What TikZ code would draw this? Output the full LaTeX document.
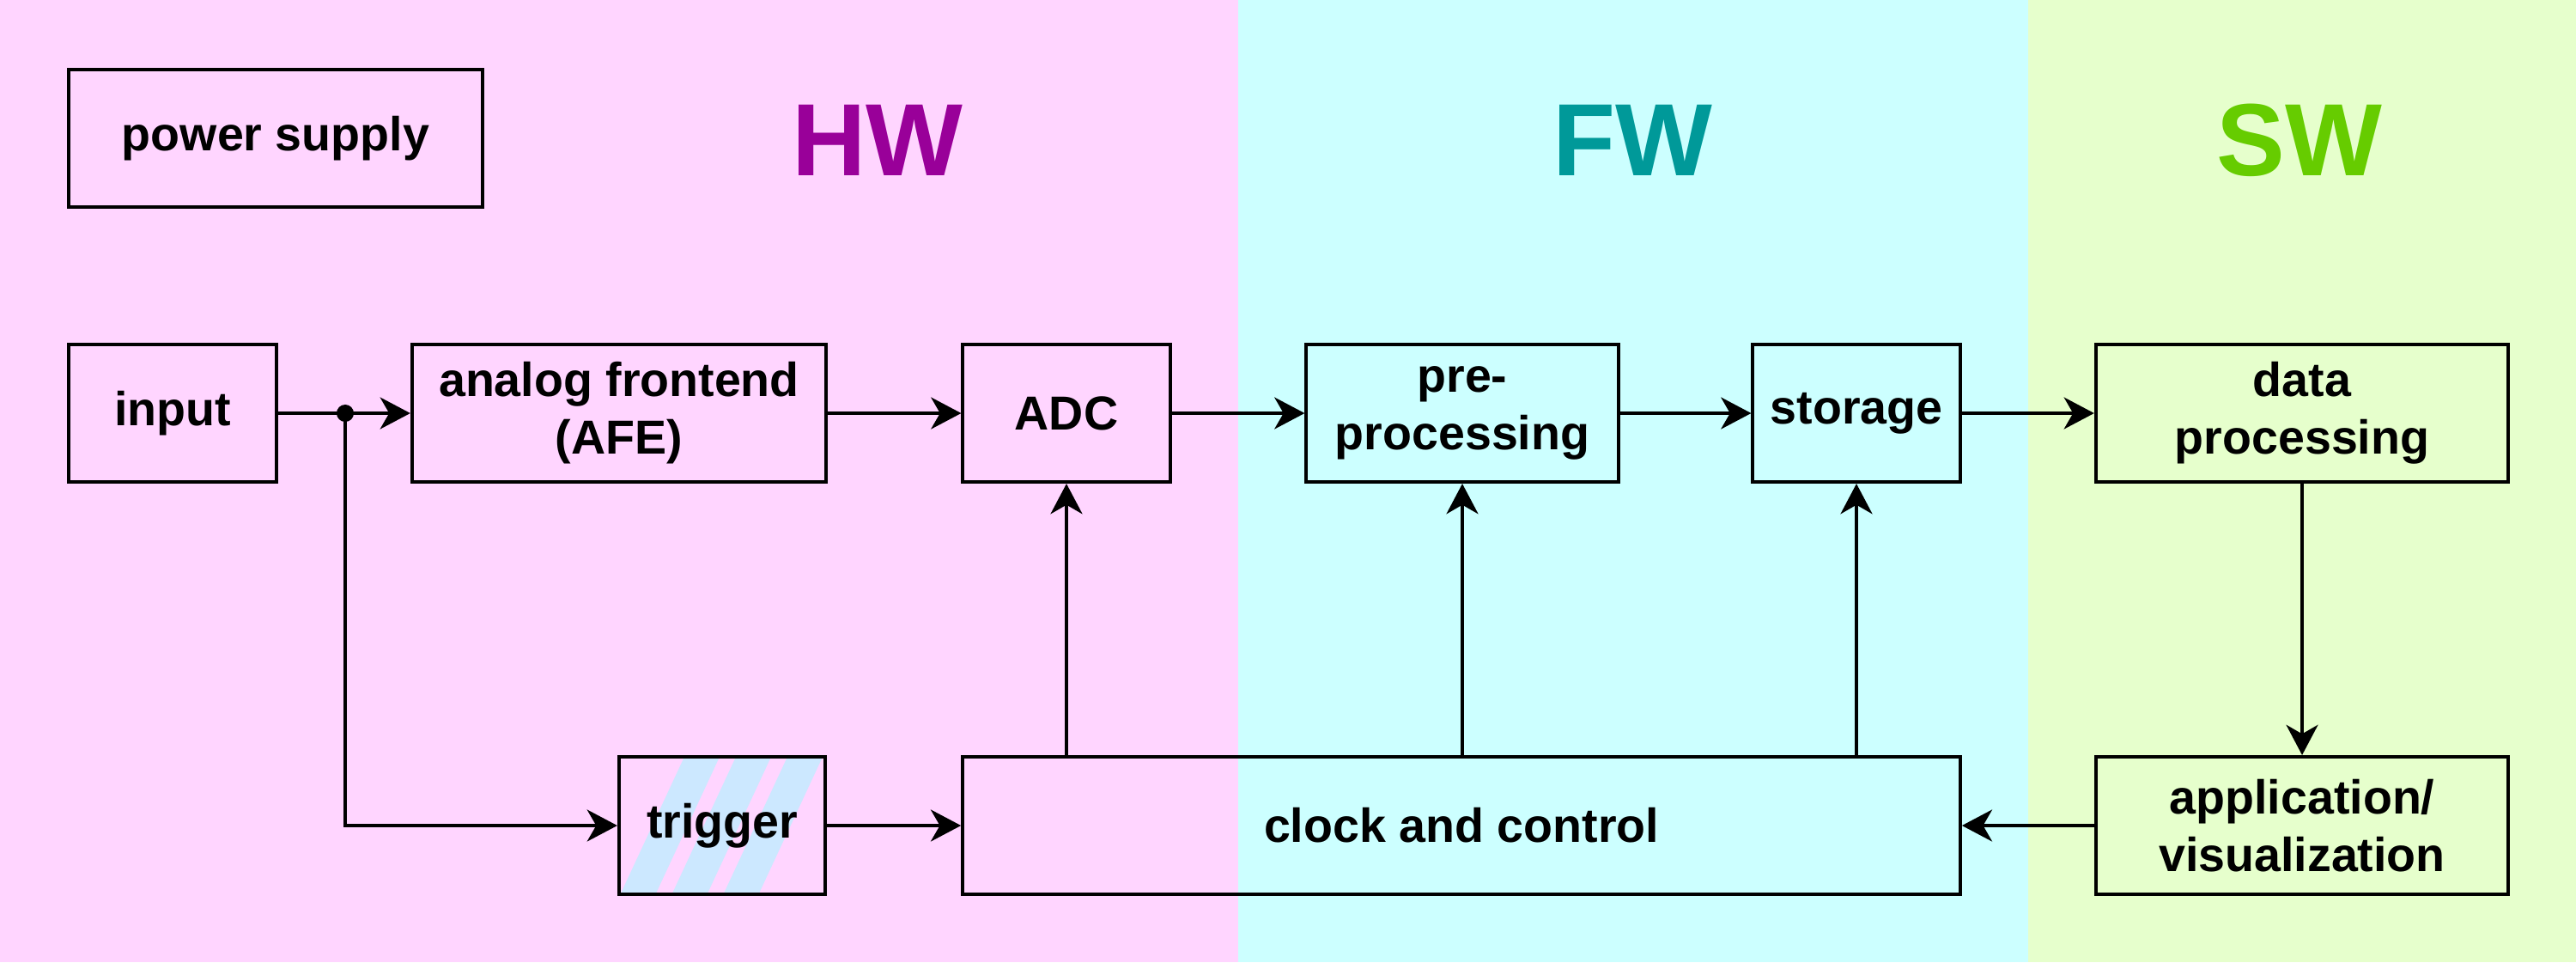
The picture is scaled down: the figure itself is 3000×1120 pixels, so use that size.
\documentclass[tikz,border=0pt]{standalone}
\usepackage{fontspec}
\setmainfont{Liberation Sans}
\usetikzlibrary{arrows.meta}
\definecolor{hwbg}{RGB}{255,213,255}
\definecolor{fwbg}{RGB}{204,255,255}
\definecolor{swbg}{RGB}{230,255,204}
\definecolor{hwtxt}{RGB}{153,0,153}
\definecolor{fwtxt}{RGB}{0,153,153}
\definecolor{swtxt}{RGB}{102,204,0}
\definecolor{stripecol}{RGB}{204,232,255}
\begin{document}
\begin{tikzpicture}[x=0.01cm,y=-0.01cm,
  box/.style={draw, line width=1.14pt, inner sep=0pt, minimum height=1.6cm,
    font=\fontsize{15.8}{19}\selectfont\bfseries, align=center},
  arr/.style={line width=1.14pt, -{Stealth[length=10pt,width=10.5pt,inset=3pt]}},
  head/.style={font=\fontsize{34}{40}\selectfont\bfseries}]
\useasboundingbox (0,0) rectangle (3000,1120);
% backgrounds
\fill[hwbg] (0,0) rectangle (1442,1120);
\fill[fwbg] (1442,0) rectangle (2362,1120);
\fill[swbg] (2362,0) rectangle (3000,1120);
% headings
\node[head, text=hwtxt] (hw) at (1022,163) {HW};
\node[head, text=fwtxt] (fw) at (1901,163) {FW};
\node[head, text=swtxt] (sw) at (2678,163) {SW};
% trigger stripes
\begin{scope}
\clip (721,881) rectangle (961,1042);
\foreach \k in {0,1,2}{
  \fill[stripecol] ({722+60*\k},1042) -- ({763+60*\k},1042) -- ({838+60*\k},881) -- ({797+60*\k},881) -- cycle;
}
\end{scope}
% nodes
\node[box, minimum width=4.82cm] (power) at (321,161) {power supply};
\node[box, minimum width=2.41cm] (input) at (201,481) {input};
\node[box, minimum width=4.82cm] (afe) at (721,481) {analog frontend\\(AFE)};
\node[box, minimum width=2.41cm] (adc) at (1242,481) {ADC};
\node[box, minimum width=3.63cm] (pre) at (1703,481) {pre-\\processing};
\node[box, minimum width=2.41cm] (storage) at (2162,481) {storage};
\node[box, minimum width=4.80cm] (dp) at (2681,481) {data\\processing};
\node[box, minimum width=4.80cm] (app) at (2681,961) {application/\\visualization};
\node[box, minimum width=2.40cm] (trigger) at (841,961) {trigger};
\node[box, minimum width=11.61cm] (clock) at (1702,961) {clock and control};
% connectors
\coordinate (j) at (402,481);
\draw[line width=1.14pt] (input.east) -- (j);
\draw[arr] (j) -- (afe.west);
\fill (j) circle (2.85pt);
\draw[arr] (j) |- (trigger.west);
\draw[arr] (afe.east) -- (adc.west);
\draw[arr] (adc.east) -- (pre.west);
\draw[arr] (pre.east) -- (storage.west);
\draw[arr] (storage.east) -- (dp.west);
\draw[arr] (trigger.east) -- (clock.west);
\draw[arr] (clock.north -| adc.south) -- (adc.south);
\draw[arr] (clock.north -| pre.south) -- (pre.south);
\draw[arr] (clock.north -| storage.south) -- (storage.south);
\draw[arr] (dp.south) -- (app.north);
\draw[arr] (app.west) -- (clock.east);
\end{tikzpicture}
\end{document}
